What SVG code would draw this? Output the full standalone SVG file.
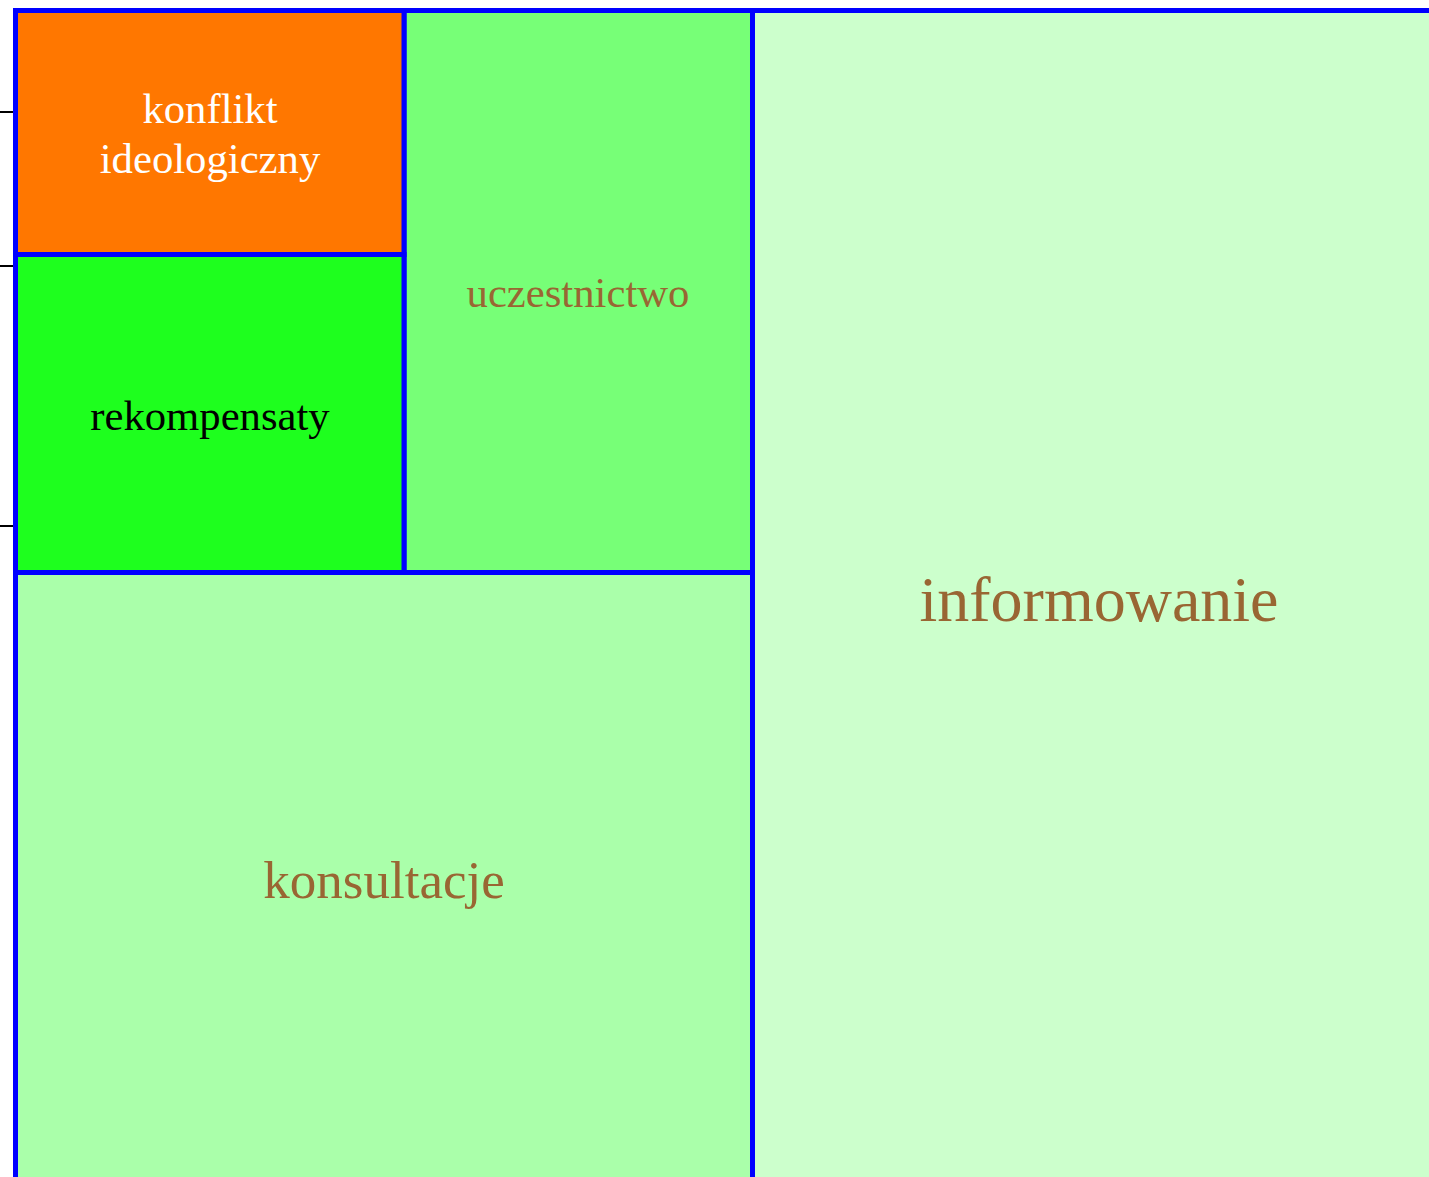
<svg xmlns="http://www.w3.org/2000/svg" width="1429" height="1177" viewBox="0 0 1429 1177">
<style>
.cell{stroke:#0000FF;stroke-width:5}
.t{font-family:"Liberation Serif","Times New Roman",serif;text-anchor:middle}
.tick{stroke:#000;stroke-width:2}
</style>
<rect x="0" y="0" width="1429" height="1177" fill="#FFFFFF"/>
<g id="ticks">
<line class="tick" x1="0" y1="112" x2="14" y2="112"/>
<line class="tick" x1="0" y1="266" x2="14" y2="266"/>
<line class="tick" x1="0" y1="526" x2="14" y2="526"/>
</g>
<g id="informowanie">
<rect class="cell" x="752.5" y="10.5" width="700" height="1200" fill="#CCFFCC"/>
<text class="t" x="1099" y="621" font-size="64" fill="#996633">informowanie</text>
</g>
<g id="konsultacje">
<rect class="cell" x="15.5" y="572.5" width="737" height="640" fill="#AAFFAA"/>
<text class="t" x="384" y="898" font-size="53" fill="#996633">konsultacje</text>
</g>
<g id="uczestnictwo">
<rect class="cell" x="404" y="10.5" width="348.5" height="562" fill="#77FF77"/>
<text class="t" x="578" y="307" font-size="42.7" fill="#996633">uczestnictwo</text>
</g>
<g id="rekompensaty">
<rect class="cell" x="15.5" y="254.5" width="388.5" height="318" fill="#1EFF1E"/>
<text class="t" x="210" y="430" font-size="42.7" fill="#000000">rekompensaty</text>
</g>
<g id="konflikt">
<rect class="cell" x="15.5" y="10.5" width="388.5" height="244" fill="#FF7700"/>
<text class="t" x="210" y="123" font-size="42.7" fill="#FFFFFF">konflikt</text>
<text class="t" x="210" y="173" font-size="42.7" fill="#FFFFFF">ideologiczny</text>
</g>
<g id="connectors"></g>
</svg>
